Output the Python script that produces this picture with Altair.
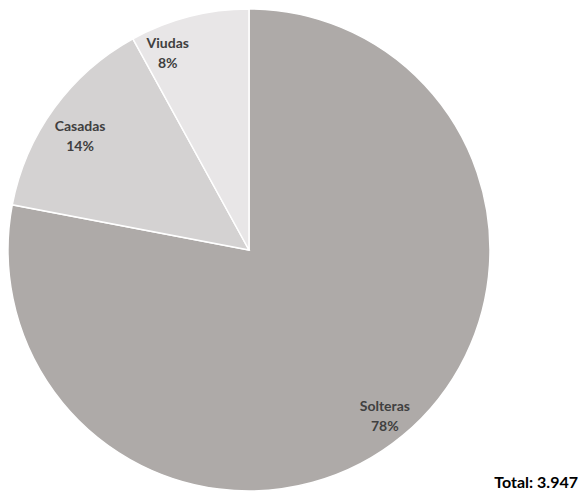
import altair as alt
import pandas as pd

categories = ["Solteras", "Casadas", "Viudas"]
percents = [78, 14, 8]
colors = ["#aeaaa8", "#d4d2d2", "#e8e6e7"]
total_label = "Total: 3.947"

df = pd.DataFrame({
    "cat": categories,
    "pct": percents,
    "idx": list(range(len(categories))),
})
df["label"] = [[c, f"{p}%"] for c, p in zip(categories, percents)]

CX, CY, R = 241, 242, 241
theta_scale = alt.Scale(domain=[0, 100])

stacked = alt.Chart(df).transform_window(
    cum="sum(pct)", sort=[alt.SortField("idx")]
).transform_calculate(
    start="datum.cum - datum.pct", mid="datum.cum - datum.pct / 2"
)

pie = stacked.mark_arc(stroke="white", strokeWidth=1.5).encode(
    theta=alt.Theta("start:Q", scale=theta_scale),
    theta2="cum:Q",
    color=alt.Color("cat:N", scale=alt.Scale(domain=categories, range=colors), legend=None),
    radius=alt.value(R),
    x=alt.value(CX),
    y=alt.value(CY),
)

label_dx = {"Solteras": 2, "Casadas": 1, "Viudas": -29}
label_dy = {"Solteras": 5, "Casadas": 10, "Viudas": 7}

layers = [pie]
for c in categories:
    layers.append(
        stacked.transform_filter(alt.datum.cat == c).mark_text(
            font="Lato", fontSize=14, fontWeight="bold", color="#404040",
            lineHeight=20, dx=label_dx[c], dy=label_dy[c] - 10, baseline="middle",
        ).encode(
            theta=alt.Theta("mid:Q", scale=theta_scale),
            text="label",
            radius=alt.value(210),
            x=alt.value(CX),
            y=alt.value(CY),
        )
    )

total = alt.Chart(pd.DataFrame({"t": [total_label]})).mark_text(
    font="Lato", fontSize=16, fontWeight="bold", color="#000000", align="right", baseline="bottom"
).encode(text="t:N", x=alt.value(570), y=alt.value(483))
layers.append(total)

chart = alt.layer(*layers).properties(
    width=572, height=484, padding=0, autosize="none"
).configure_view(stroke=None)

chart.save("out.html", embed_options={"renderer": "svg", "actions": False})
